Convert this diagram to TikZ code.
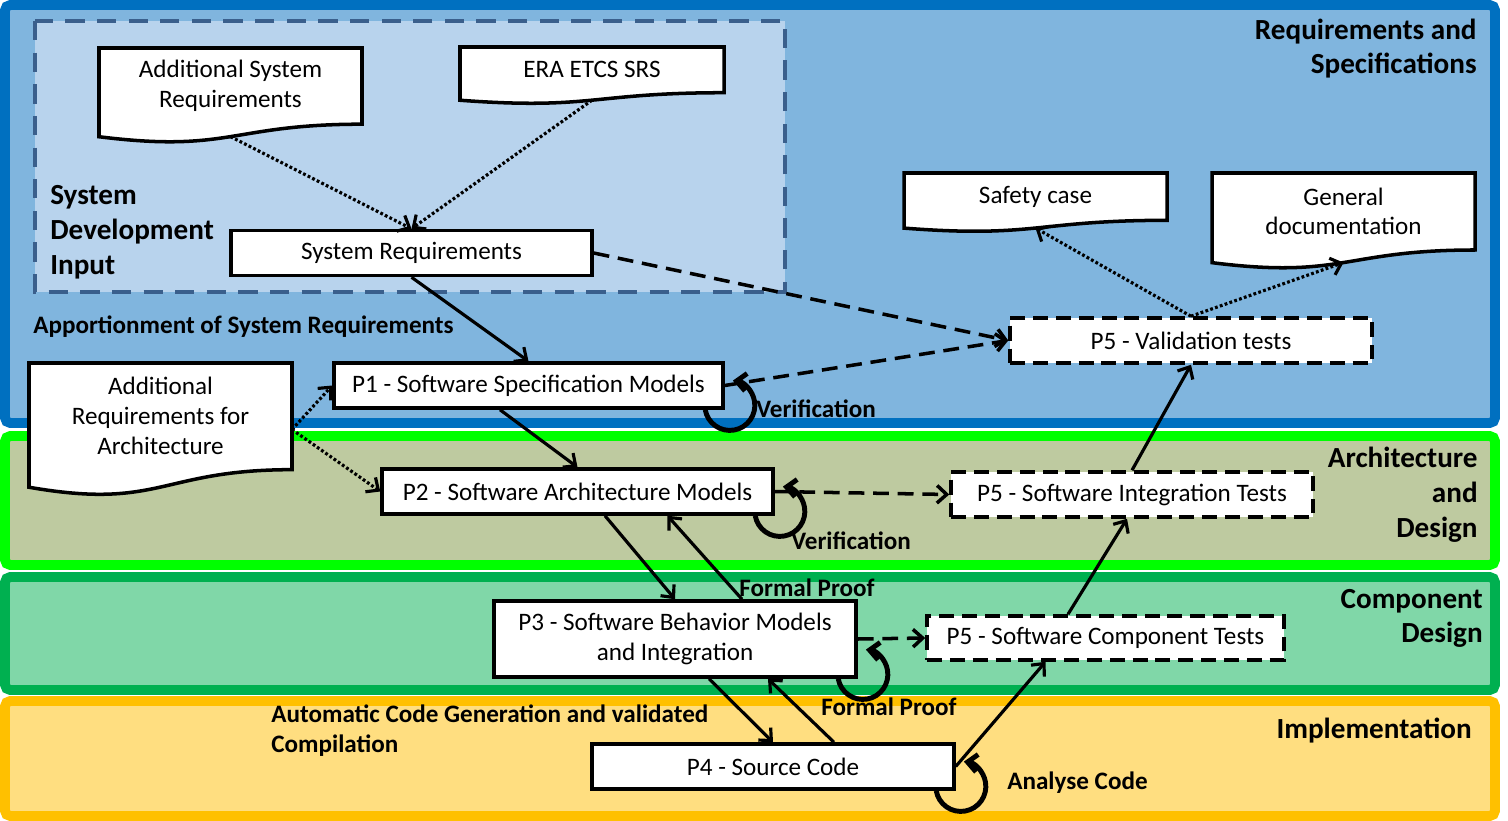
\documentclass[tikz,border=0pt]{standalone}
\usepackage{fontspec}
\setmainfont{Carlito}
\usetikzlibrary{arrows.meta}

\definecolor{reqline}{RGB}{0,112,192}
\definecolor{reqfill}{RGB}{128,181,222}
\definecolor{sdiline}{RGB}{58,95,140}
\definecolor{sdifill}{RGB}{184,211,237}
\definecolor{archline}{RGB}{0,255,0}
\definecolor{archfill}{RGB}{190,202,160}
\definecolor{compline}{RGB}{0,176,80}
\definecolor{compfill}{RGB}{128,215,168}
\definecolor{implline}{RGB}{255,192,0}
\definecolor{implfill}{RGB}{255,222,128}

% document shape: name, left, top, width, height, text
\newcommand{\docbox}[6]{%
  \draw[docline] (#2,#3) -- ({#2+#4},#3) -- ({#2+#4},{#3+0.802*#5})
    .. controls ({#2+0.5*#4},{#3+0.802*#5}) and ({#2+0.5*#4},{#3+1.107*#5}) .. (#2,{#3+0.934*#5}) -- cycle;
  \node[doctext] (#1) at ({#2+0.5*#4},{#3+0.4*#5}) {#6};
  \coordinate (#1-s) at ({#2+0.5*#4},{#3+0.933*#5});
  \coordinate (#1-e) at ({#2+#4},{#3+0.5*#5});
}
% verification loop on the lower right corner
\newcommand{\selfcheck}[1]{%
  \draw[loopline] ([xshift=-0.39cm]#1.south east) arc[start angle=170, end angle=-83, radius=25];
}

\begin{document}
\begin{tikzpicture}[x=0.02cm, y=-0.02cm,
    every node/.style={font=\fontsize{14.3}{17}\selectfont},
    band/.style={line width=5.6pt, rounded corners=3pt},
    sdi/.style={draw=sdiline, fill=sdifill, line width=2.3pt, dash pattern=on 11pt off 7pt},
    box/.style={draw, fill=white, line width=2pt, align=center, inner sep=0pt, minimum height=0.9cm},
    testbox/.style={box, dash pattern=on 8.5pt off 4.5pt},
    docline/.style={draw, fill=white, line width=2pt},
    doctext/.style={align=center},
    title/.style={font=\fontsize{16.6}{19.8}\selectfont\bfseries, inner sep=0pt},
    note/.style={font=\fontsize{14.3}{17}\selectfont\bfseries, inner sep=0pt, anchor=west, align=left},
    flow/.style={line width=1.8pt, -{Straight Barb[length=5.5pt,width=10pt]}},
    ref/.style={flow, line width=1.8pt, dash pattern=on 1.6pt off 1.3pt},
    check/.style={flow, line width=2pt, dash pattern=on 9pt off 5pt},
    loopline/.style={flow, line width=2.8pt}]
  \useasboundingbox (0,0) rectangle (1508,821);

  % levels
  \draw[band, draw=reqline, fill=reqfill] (5,5) rectangle (1495,423);
  \draw[band, draw=archline, fill=archfill] (5,436) rectangle (1495,565);
  \draw[band, draw=compline, fill=compfill] (5,577) rectangle (1495,690);
  \draw[band, draw=implline, fill=implfill] (5,701) rectangle (1495,816);
  \draw[sdi] (35,21) rectangle (785,292);

  % documents
  \docbox{asr}{99}{48}{263}{95}{Additional System\\Requirements}
  \docbox{era}{460}{47}{264}{57}{ERA ETCS SRS}
  \docbox{safety}{904}{173}{263}{59}{Safety case}
  \docbox{gendoc}{1212}{173}{263}{96}{General\\documentation}
  \docbox{ara}{29}{363}{263}{133}{Additional\\Requirements for\\Architecture}

  % models
  \node[box, minimum width=7.22cm] (sysreq) at (411.5,253) {System Requirements};
  \node[box, minimum width=7.78cm] (p1) at (528.5,385.5) {P1 - Software Specification Models};
  \node[box, minimum width=7.82cm] (p2) at (577.5,491.5) {P2 - Software Architecture Models};
  \node[box, minimum width=7.24cm, minimum height=1.52cm] (p3) at (675,639) {P3 - Software Behavior Models\\and Integration};
  \node[box, minimum width=7.24cm] (p4) at (773,766.5) {P4 - Source Code};
  \node[testbox, minimum width=7.24cm] (val) at (1191,340.5) {P5 - Validation tests};
  \node[testbox, minimum width=7.24cm] (integ) at (1132,494.5) {P5 - Software Integration Tests};
  \node[testbox, minimum width=7.14cm, minimum height=0.88cm] (comp) at (1105.5,638) {P5 - Software Component Tests};

  % connectors
  \draw[ref] (asr-s) -- (sysreq.north);
  \draw[ref] (era-s) -- (sysreq.north);
  \draw[flow] (sysreq.south) -- (p1.north);
  \draw[check] (sysreq.east) -- (val.west);
  \draw[check] (p1.east) -- (val.west);
  \draw[ref] (ara-e) -- (p1.west);
  \draw[ref] (ara-e) -- (p2.west);
  \draw[flow] ([xshift=-0.57cm]p1.south) -- (p2.north);
  \draw[check] (p2.east) -- (integ.west);
  \draw[flow] ([xshift=0.55cm]p2.south) -- (p3.north);
  \draw[flow] ([xshift=1.34cm]p3.north) -- ([xshift=1.8cm]p2.south);
  \draw[check] (p3.east) -- (comp.west);
  \draw[flow] ([xshift=0.68cm]p3.south) -- (p4.north);
  \draw[flow] ([xshift=1.22cm]p4.north) -- ([xshift=1.86cm]p3.south);
  \draw[flow] (p4.east) -- ([xshift=-1.2cm]comp.south);
  \draw[flow] ([xshift=-0.75cm]comp.north) -- ([xshift=-0.1cm]integ.south);
  \draw[flow] (integ.north) -- (val.south);
  \draw[ref] (val.north) -- (safety-s);
  \draw[ref] (val.north) -- (gendoc-s);
  \foreach \n in {p1,p2,p3,p4}
    \selfcheck{\n};

  % labels
  \node[title, anchor=east, align=right] (reqlabel) at (1477,48.5) {Requirements and\\Specifications};
  \node[title, anchor=east, align=right] (archlabel) at (1478,495) {Architecture\\and\\Design};
  \node[title, anchor=east, align=right] (complabel) at (1483,618.5) {Component\\Design};
  \node[title, anchor=east] (impllabel) at (1472,731) {Implementation};
  \node[title, anchor=west, align=left] (sdilabel) at (50,232) {System\\Development\\Input};
  \node[note] (apportion) at (33,327) {Apportionment of System Requirements};
  \node[note] (verif1) at (756,409) {Verification};
  \node[note] (verif2) at (791,541) {Verification};
  \node[note] (proof1) at (739,588) {Formal Proof};
  \node[note] (proof2) at (821,707) {Formal Proof};
  \node[note] (autogen) at (271,731) {Automatic Code Generation and validated\\Compilation};
  \node[note] (analyse) at (1007,783) {Analyse Code};
\end{tikzpicture}
\end{document}
